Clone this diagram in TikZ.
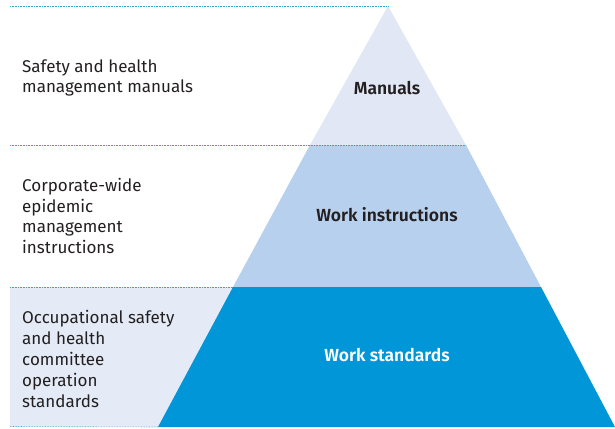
\documentclass[tikz,border=0pt]{standalone}
\usepackage{fontspec}
\setmainfont{Fira Sans}[BoldFont={Fira Sans SemiBold}]
\usetikzlibrary{positioning, calc}

\definecolor{tierTop}{HTML}{E1E7F4}
\definecolor{tierMid}{HTML}{B6D0EE}
\definecolor{tierLow}{HTML}{0096D7}
\definecolor{sideBox}{HTML}{E4EBF6}
\definecolor{guide}{HTML}{3BA3D6}
\definecolor{ink}{HTML}{231F20}

\begin{document}
\begin{tikzpicture}[
    x=1pt, y=-1pt,
    desc/.style={anchor=west, align=left, font=\fontsize{17}{20.8}\selectfont, text=ink, inner sep=0pt},
    tier/.style={font=\fontsize{17.5}{20}\selectfont\bfseries, inner sep=0pt},
    guideline/.style={draw=guide, densely dotted, line width=0.6pt}
  ]
  \useasboundingbox (0,0) rectangle (615,428);

  % ============ PYRAMID ============
  \coordinate (apex) at (388,6);
  \coordinate (ml) at (310,145);
  \coordinate (mr) at (466,145);
  \coordinate (bl) at (233,287);
  \coordinate (br) at (541,287);
  \coordinate (fl) at (158,427);
  \coordinate (fr) at (615,427);

  % Side box behind lowest text
  \fill[sideBox] (10,287) rectangle (240,427);

  \fill[tierTop] (apex) -- (mr) -- (ml) -- cycle;
  \fill[tierMid] (ml) -- (mr) -- (br) -- (bl) -- cycle;
  \fill[tierLow] (bl) -- (br) -- (fr) -- (fl) -- cycle;

  % ============ GUIDE LINES ============
  \draw[guideline] (10,6) -- (apex);
  \draw[guideline] (10,145) -- (mr);
  \draw[guideline] (10,287) -- (bl);
  \draw[guideline] (10,426.5) -- (fl);

  % ============ LABELS ============
  \node[tier, text=ink] (manuals) at (387,88) {Manuals};
  \node[tier, text=ink] (instr) at (387,215) {Work instructions};
  \node[tier, text=white] (stds) at (387,355) {Work standards};

  \node[desc] (manualsdesc) at (22,78) {Safety and health\\management manuals};
  \node[desc] (instrdesc) at (22,216) {Corporate-wide\\epidemic\\management\\instructions};
  \node[desc] (stdsdesc) at (22,359) {Occupational safety\\and health\\committee\\operation\\standards};

\end{tikzpicture}
\end{document}
